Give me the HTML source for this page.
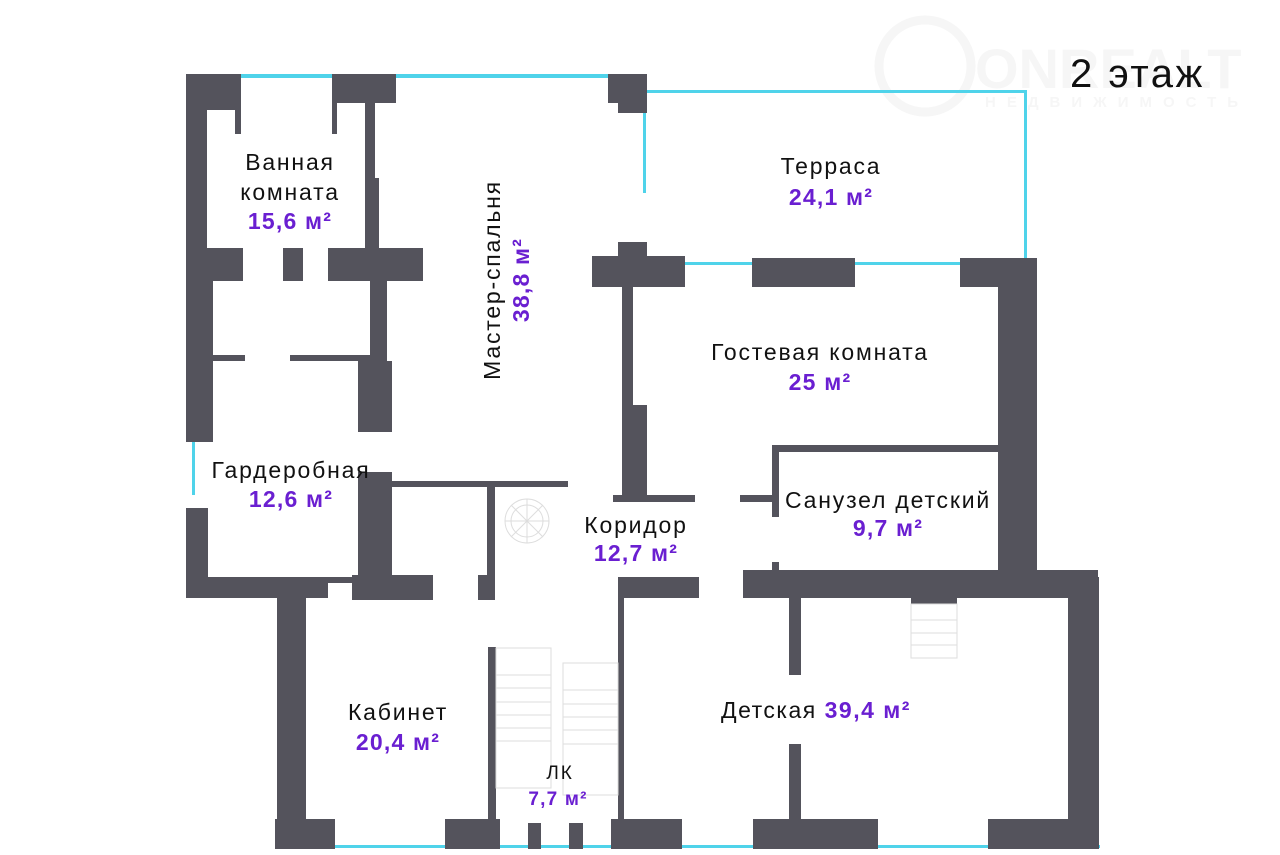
<!DOCTYPE html>
<html><head><meta charset="utf-8"><style>
html,body{margin:0;padding:0;background:#fff;}
svg{display:block;}
text{font-family:"Liberation Sans",sans-serif;}
.n{fill:#111;font-size:23px;letter-spacing:1.8px;}
.a{fill:#6a1fd1;font-size:23px;font-weight:bold;letter-spacing:1.2px;}
</style></head><body>
<svg width="1280" height="855" viewBox="0 0 1280 855" xmlns="http://www.w3.org/2000/svg">
<rect width="1280" height="855" fill="#fff"/>
<circle cx="925" cy="66" r="46" fill="none" stroke="#f6f6f6" stroke-width="9"/>
<text x="975" y="88" style="font-size:56px;font-weight:bold;fill:#f6f6f6">ONREALT</text>
<text x="985" y="107" style="font-size:15px;font-weight:bold;fill:#f6f6f6;letter-spacing:11px">НЕДВИЖИМОСТЬ</text>
<g fill="#4fd3ea">
<rect x="241" y="74" width="367" height="4"/>
<rect x="643" y="90" width="384" height="3"/>
<rect x="643" y="90" width="3" height="103"/>
<rect x="1024" y="90" width="3" height="170"/>
<rect x="685" y="262" width="280" height="3"/>
<rect x="192" y="440" width="3" height="55"/>
<rect x="275" y="845" width="825" height="3"/>
</g>
<g fill="#54535c">
<rect x="186" y="74" width="55" height="36"/>
<rect x="235" y="110" width="6" height="24"/>
<rect x="186" y="74" width="21" height="368"/>
<rect x="332" y="74" width="64" height="29"/>
<rect x="332" y="103" width="5" height="31"/>
<rect x="365" y="103" width="10" height="147"/>
<rect x="375" y="178" width="4" height="72"/>
<rect x="186" y="248" width="57" height="33"/>
<rect x="283" y="248" width="20" height="33"/>
<rect x="328" y="248" width="95" height="33"/>
<rect x="186" y="281" width="27" height="161"/>
<rect x="213" y="355" width="32" height="6"/>
<rect x="290" y="355" width="80" height="6"/>
<rect x="370" y="281" width="17" height="80"/>
<rect x="358" y="361" width="34" height="71"/>
<rect x="358" y="472" width="34" height="128"/>
<rect x="392" y="481" width="176" height="6"/>
<rect x="487" y="487" width="8" height="113"/>
<rect x="186" y="508" width="22" height="90"/>
<rect x="186" y="577" width="142" height="21"/>
<rect x="328" y="577" width="24" height="6"/>
<rect x="352" y="575" width="81" height="25"/>
<rect x="478" y="575" width="17" height="25"/>
<rect x="608" y="74" width="39" height="29"/>
<rect x="618" y="103" width="29" height="10"/>
<rect x="618" y="242" width="29" height="15"/>
<rect x="592" y="256" width="93" height="31"/>
<rect x="752" y="258" width="103" height="29"/>
<rect x="960" y="258" width="77" height="29"/>
<rect x="998" y="287" width="39" height="283"/>
<rect x="622" y="287" width="11" height="210"/>
<rect x="627" y="405" width="20" height="92"/>
<rect x="613" y="495" width="82" height="7"/>
<rect x="772" y="445" width="226" height="7"/>
<rect x="772" y="445" width="7" height="72"/>
<rect x="740" y="495" width="32" height="7"/>
<rect x="772" y="562" width="7" height="10"/>
<rect x="743" y="570" width="355" height="28"/>
<rect x="618" y="577" width="81" height="21"/>
<rect x="277" y="598" width="29" height="251"/>
<rect x="275" y="819" width="60" height="30"/>
<rect x="445" y="819" width="55" height="30"/>
<rect x="528" y="823" width="13" height="26"/>
<rect x="569" y="823" width="14" height="26"/>
<rect x="611" y="819" width="71" height="30"/>
<rect x="753" y="819" width="125" height="30"/>
<rect x="988" y="819" width="111" height="30"/>
<rect x="1068" y="577" width="31" height="272"/>
<rect x="789" y="598" width="12" height="77"/>
<rect x="789" y="744" width="12" height="75"/>
<rect x="488" y="647" width="8" height="172"/>
<rect x="618" y="598" width="6" height="221"/>
<rect x="911" y="598" width="46" height="6"/>
</g>
<g fill="none" stroke="#ddd" stroke-width="1">
<rect x="911" y="604" width="46" height="54"/>
<line x1="911" y1="620" x2="957" y2="620"/><line x1="911" y1="633" x2="957" y2="633"/><line x1="911" y1="645" x2="957" y2="645"/>
<rect x="496" y="648" width="55" height="140"/>
<rect x="563" y="663" width="55" height="132"/>
<line x1="496" y1="675" x2="551" y2="675"/><line x1="496" y1="688" x2="551" y2="688"/><line x1="496" y1="702" x2="551" y2="702"/><line x1="496" y1="715" x2="551" y2="715"/><line x1="496" y1="728" x2="551" y2="728"/><line x1="496" y1="741" x2="551" y2="741"/>
<line x1="563" y1="690" x2="618" y2="690"/><line x1="563" y1="704" x2="618" y2="704"/><line x1="563" y1="717" x2="618" y2="717"/><line x1="563" y1="730" x2="618" y2="730"/><line x1="563" y1="744" x2="618" y2="744"/>
<circle cx="527" cy="521" r="22"/>
<circle cx="527" cy="521" r="16"/>
<line x1="505" y1="521" x2="549" y2="521"/><line x1="527" y1="499" x2="527" y2="543"/>
<line x1="511" y1="505" x2="543" y2="537"/><line x1="543" y1="505" x2="511" y2="537"/>
</g>
<text x="1070" y="87" style="font-size:40px;fill:#111;letter-spacing:2.5px">2 этаж</text>
<g text-anchor="middle">
<text class="n" x="290" y="170">Ванная</text>
<text class="n" x="290" y="200">комната</text>
<text class="a" x="290" y="229">15,6 м²</text>
<text class="n" x="831" y="174">Терраса</text>
<text class="a" x="831" y="205">24,1 м²</text>
<text class="n" x="820" y="360">Гостевая комната</text>
<text class="a" x="820" y="390">25 м²</text>
<text class="n" x="291" y="478">Гардеробная</text>
<text class="a" x="291" y="507">12,6 м²</text>
<text class="n" x="636" y="533">Коридор</text>
<text class="a" x="636" y="561">12,7 м²</text>
<text class="n" x="888" y="508">Санузел детский</text>
<text class="a" x="888" y="536">9,7 м²</text>
<text class="n" x="398" y="720">Кабинет</text>
<text class="a" x="398" y="750">20,4 м²</text>
<text x="816" y="718" style="font-size:23px;letter-spacing:1.5px"><tspan fill="#111">Детская </tspan><tspan fill="#6a1fd1" font-weight="bold">39,4 м²</tspan></text>
<text class="n" x="560" y="779" style="font-size:19px">ЛК</text>
<text class="a" x="558" y="805" style="font-size:19px">7,7 м²</text>
<g transform="translate(500,280) rotate(-90)"><text class="n" x="0" y="0">Мастер-спальня</text></g>
<g transform="translate(529,280) rotate(-90)"><text class="a" x="0" y="0">38,8 м²</text></g>
</g>
</svg>
</body></html>
